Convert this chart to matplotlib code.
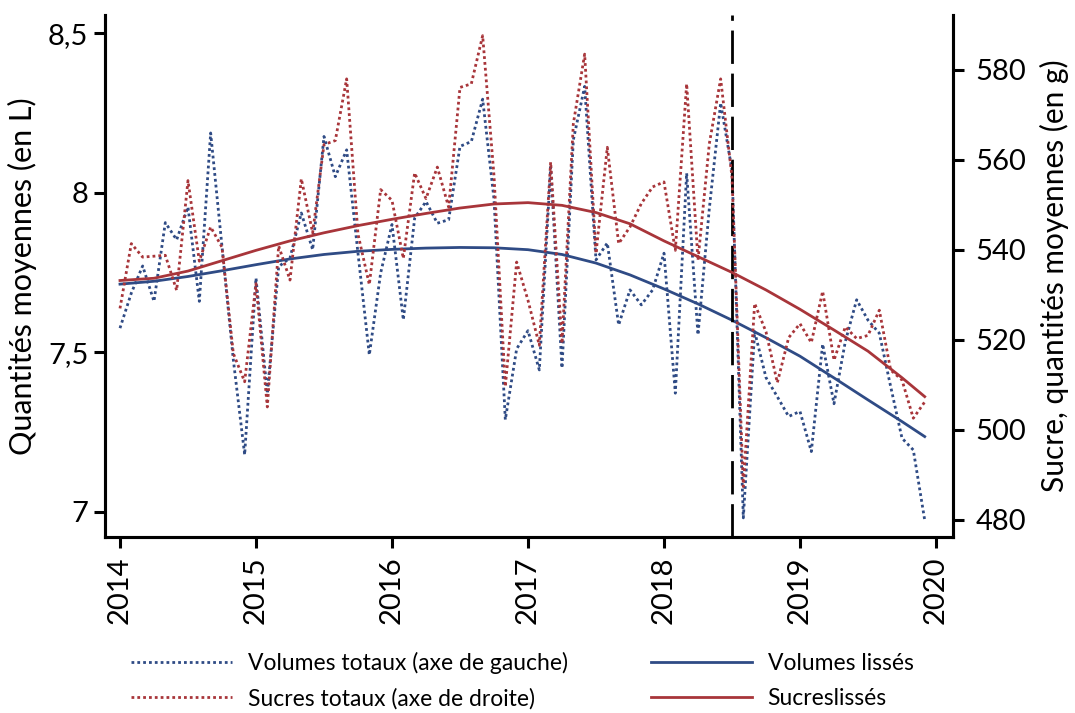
import numpy as np
import matplotlib
matplotlib.use("Agg")
import matplotlib.pyplot as plt
from matplotlib.lines import Line2D

plt.rcParams['font.family'] = ['Lato', 'DejaVu Sans']

# ---- data -------------------------------------------------------------
start_year = 2014
n_months = 72

volumes = [7.575, 7.685, 7.770, 7.659, 7.906, 7.852, 7.955, 7.659, 8.187, 7.831, 7.476, 7.178,
           7.732, 7.370, 7.768, 7.795, 7.936, 7.821, 8.176, 8.050, 8.134, 7.810, 7.491, 7.748,
           7.900, 7.601, 7.920, 7.972, 7.904, 7.915, 8.145, 8.160, 8.293, 7.980, 7.288, 7.510,
           7.567, 7.444, 8.080, 7.450, 8.165, 8.333, 7.789, 7.842, 7.585, 7.695, 7.648, 7.695,
           7.810, 7.371, 8.061, 7.554, 7.950, 8.281, 8.070, 6.980, 7.564, 7.420, 7.360, 7.298,
           7.314, 7.188, 7.525, 7.338, 7.533, 7.664, 7.600, 7.559, 7.392, 7.230, 7.193, 6.974]

sucres = [527.0, 541.4, 538.4, 538.6, 538.8, 531.0, 555.4, 537.5, 545.1, 540.6, 517.0, 510.7,
          532.5, 505.1, 540.9, 533.3, 555.8, 543.8, 563.4, 564.3, 578.0, 543.5, 532.3, 553.4,
          551.0, 538.1, 557.1, 551.4, 558.4, 549.5, 576.1, 576.9, 587.6, 556.5, 509.6, 537.3,
          528.8, 518.8, 559.5, 519.2, 568.0, 583.5, 539.2, 562.8, 541.4, 545.1, 550.3, 554.0,
          555.1, 539.9, 576.9, 537.7, 563.6, 578.0, 556.2, 487.4, 528.1, 521.8, 510.5, 520.5,
          523.6, 519.4, 530.8, 515.5, 522.9, 520.3, 521.0, 526.6, 513.3, 511.1, 502.6, 506.2]

smooth_t = [2014.0, 2014.25, 2014.5, 2014.75, 2015.0, 2015.25, 2015.5, 2015.75, 2016.0,
            2016.25, 2016.5, 2016.75, 2017.0, 2017.25, 2017.5, 2017.75, 2018.0, 2018.25,
            2018.5, 2018.75, 2019.0, 2019.25, 2019.5, 2019.75, 2019.917]
volumes_lisses = [7.713, 7.722, 7.737, 7.755, 7.774, 7.792, 7.806, 7.816, 7.822,
                  7.826, 7.828, 7.827, 7.821, 7.806, 7.779, 7.742, 7.698, 7.651,
                  7.600, 7.545, 7.487, 7.419, 7.350, 7.282, 7.235]
sucres_lisses = [533.2, 533.7, 535.3, 537.6, 539.9, 542.0, 543.8, 545.4, 546.8,
                 548.1, 549.3, 550.2, 550.5, 549.9, 548.3, 545.8, 542.0, 538.5,
                 535.0, 531.1, 526.8, 522.2, 517.5, 511.6, 507.4]

cutoff = 2018.5

left_ticks = [7, 7.5, 8, 8.5]
left_ticklabels = ['7', '7,5', '8', '8,5']
right_ticks = [480, 500, 520, 540, 560, 580]
x_ticks = [2014, 2015, 2016, 2017, 2018, 2019, 2020]

labels = ['Volumes totaux (axe de gauche)', 'Sucres totaux (axe de droite)',
          'Volumes lissés', 'Sucreslissés']

# ---- styling ----------------------------------------------------------
BLUE = '#2f4b85'
RED = '#a8353a'
dotted = (0, (1.0, 1.1))

t = start_year + np.arange(n_months) / 12.0

fig = plt.figure(figsize=(10.75, 7.13), dpi=100)
ax = fig.add_axes([0.0977, 0.2468, 0.7888, 0.7322])
ax2 = ax.twinx()

ax.plot(t, volumes, color=BLUE, lw=2.0, ls=dotted)
ax.plot(smooth_t, volumes_lisses, color=BLUE, lw=2.0)
ax2.plot(t, sucres, color=RED, lw=2.0, ls=dotted)
ax2.plot(smooth_t, sucres_lisses, color=RED, lw=2.0)
ax.axvline(cutoff, color='black', lw=2.0, ls=(0, (12, 3.5)), zorder=5)

ax.set_xlim(2013.89, 2020.125)
ax.set_ylim(6.92, 8.557)
ax2.set_ylim(476.2, 592.2)

ax.set_yticks(left_ticks)
ax.set_yticklabels(left_ticklabels)
ax2.set_yticks(right_ticks)
ax.set_xticks(x_ticks)
ax.set_xticklabels([str(x) for x in x_ticks], rotation=90)

for a in (ax, ax2):
    for s in a.spines.values():
        s.set_linewidth(2.2)
    a.spines['top'].set_visible(False)
    a.tick_params(width=2.2, length=8, labelsize=21)
ax.tick_params(axis='x', pad=6)
ax.tick_params(axis='y', pad=4)
ax2.tick_params(axis='y', pad=8)

ax.set_ylabel('Quantités moyennes (en L)', fontsize=22, labelpad=8)
ax2.set_ylabel('Sucre, quantités moyennes (en g)', fontsize=21.5, labelpad=10)

handles = [Line2D([], [], color=BLUE, lw=2.0, ls=dotted),
           Line2D([], [], color=RED, lw=2.0, ls=dotted),
           Line2D([], [], color=BLUE, lw=2.0),
           Line2D([], [], color=RED, lw=2.0)]
fig.legend(handles, labels, ncol=2, loc='lower left', bbox_to_anchor=(0.103, -0.024),
           frameon=False, fontsize=16.5, handlelength=4.4, handletextpad=0.7,
           columnspacing=3.6, labelspacing=0.62)

fig.savefig('out.png', dpi=100)
